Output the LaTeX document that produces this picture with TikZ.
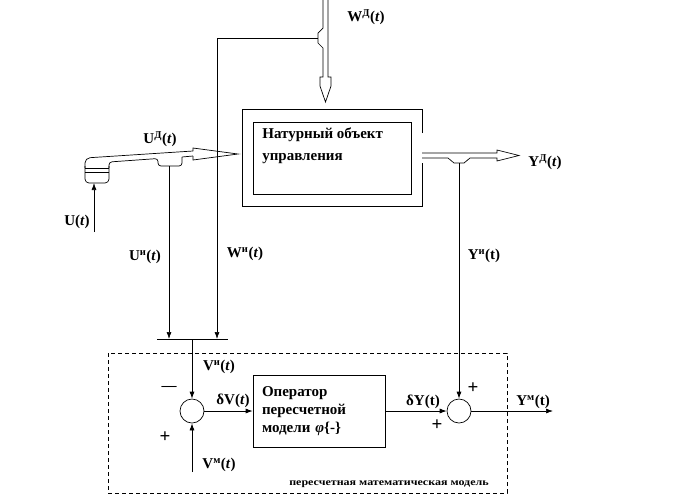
\documentclass[tikz,border=0pt]{standalone}
\usepackage{fontspec}
\setmainfont{Liberation Serif}
\usetikzlibrary{arrows.meta}

\begin{document}
\begin{tikzpicture}[
x=1pt, y=-1pt,
line width=0.7pt,
every node/.style={
inner sep=0pt,
font=\fontsize{15}{18}\selectfont\bfseries
},
box/.style={
draw,
minimum width=132pt,
minimum height=72pt,
text width=114pt,
align=left
},
sum/.style={
draw,
circle,
minimum size=24pt
},
sign/.style={
font=\fontsize{19}{20}\selectfont\bfseries
},
arr/.style={-{Latex[length=7pt,width=5pt]}}
]

\useasboundingbox (0,0) rectangle (676,499);

% blocks
\node[draw, minimum width=158pt, minimum height=72pt] (Ob) at (332,158) {};
\node[anchor=north west, align=left, font=\fontsize{15}{22}\selectfont\bfseries] (ObT) at (262,127)
{Натурный объект\\управления};
\draw (422,133) -- (422,109) -- (242,109) -- (242,206) -- (422,206) -- (422,163);

\node[box] (Op) at (319,411)
{Оператор\\пересчетной\\модели \textit{φ}\{-\}};

\node[sum] (S1) at (192,411) {};
\node[sum] (S2) at (459,411) {};

% free ends
\coordinate (Uin) at (94,232);
\coordinate (Ud) at (94,183);
\coordinate (TU) at (169,166);
\coordinate (TW) at (318,38);
\coordinate (TY) at (459,163);
\coordinate (Bu) at (169,339);
\coordinate (Bw) at (217,339);
\coordinate (Bm) at (192,339);
\coordinate (Vin) at (192,472);
\coordinate (Yout) at (553,411);

% W^D pipe
\draw (323,0) -- (323,28) -- (318,33) -- (318,43) -- (323,48) -- (323,77)
-- (320,77) -- (320,86) -- (325.5,102) -- (331,86) -- (331,77) -- (328,77) -- (328,0);

% U^D device and pipe
\draw[rounded corners=4pt] (85,166) -- (85,183) -- (109,183) -- (109,166);
\draw (85,168) -- (109,168);
\draw (85,172) -- (109,172);
\draw[rounded corners=5pt] (85,168) -- (85,158) -- (193,151);
\draw[rounded corners=3pt] (109,168) -- (109,162) -- (158,158.5) -- (158,166) -- (182,166) -- (182,157);
\draw (182,157) -- (193,156);
\draw (193,151) -- (193,148) -- (238,154) -- (193,160) -- (193,156);

% Y^D pipe
\draw (422,153) -- (497,153) -- (497,150) -- (519,155.5) -- (497,161) -- (497,158)
-- (470,158) -- (464,163) -- (454,163) -- (448,158) -- (422,158);

% signals
\draw[arr] (Uin) -- (Ud);
\draw[arr] (TU) -- (Bu);
\draw[arr] (TW) -| (Bw);
\draw (157,339) -- (228,339);
\draw[arr] (Bm) -- (S1);
\draw[arr] (Vin) -- (S1);
\draw[arr] (S1) -- (Op);
\draw[arr] (Op) -- (S2);
\draw[arr] (TY) -- (S2);
\draw[arr] (S2) -- (Yout);

% model frame
\draw[dash pattern=on 4pt off 3pt] (108,353) rectangle (507,493);
\node[font=\fontsize{10}{12}\selectfont\bfseries, xscale=1.2] (Mt) at (389,484)
{пересчетная математическая модель};

% labels
\node (LWd) at (366,17) {W\textsuperscript{Д}(\textit{t})};
\node (LUd) at (160,139) {U\textsuperscript{Д}(\textit{t})};
\node (LYd) at (545,162) {Y\textsuperscript{Д}(\textit{t})};
\node (LU) at (77,222) {U(\textit{t})};
\node (LUi) at (145,257) {U\textsuperscript{и}(\textit{t})};
\node (LWi) at (245,254) {W\textsuperscript{и}(\textit{t})};
\node (LYi) at (484,256) {Y\textsuperscript{и}(t)};
\node (LVi) at (219,367) {V\textsuperscript{и}(\textit{t})};
\node (LdV) at (233,401) {δV(\textit{t})};
\node (LVm) at (219,465) {V\textsuperscript{м}(\textit{t})};
\node (Lm1) at (169,388) {—};
\node[sign] (Lp1) at (165,437) {+};
\node (LdY) at (423,402) {δY(t)};
\node[sign] (Lp2) at (473,388) {+};
\node[sign] (Lp3) at (437,425) {+};
\node (LYm) at (533,402) {Y\textsuperscript{м}(t)};

\end{tikzpicture}
\end{document}
